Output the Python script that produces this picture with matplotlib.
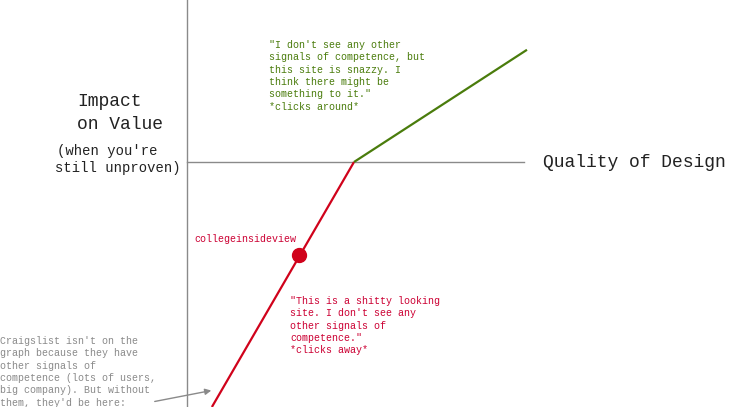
import matplotlib
matplotlib.use('Agg')
import matplotlib.pyplot as plt

# curve: quality of design vs impact on value
quality_bad = [-2.9, 0.0]
impact_bad = [-5.0, 0.0]
quality_good = [0.0, 3.53]
impact_good = [0.0, 2.29]

site_label = 'collegeinsideview'
site_quality = -1.12
site_impact = -1.9

W, H = 738, 407
px = 49.0          # pixels per data unit
ox, oy = 354, 162  # origin in pixels (from top-left)

fig = plt.figure(figsize=(W / 100, H / 100), dpi=100)
ax = fig.add_axes([0, 0, 1, 1])
ax.set_xlim(-ox / px, (W - ox) / px)
ax.set_ylim(-(H - oy) / px, oy / px)
ax.axis('off')

mono = 'Liberation Mono'
gray = '#8a8a8a'
red = '#d0021b'
green = '#4a7c0c'

# axes lines
x_axis_left = (187 - ox) / px
ax.plot([x_axis_left, x_axis_left], [-(H - oy) / px, oy / px], color=gray, lw=1)
ax.plot([x_axis_left, (524 - ox) / px], [0, 0], color=gray, lw=1)

ax.plot(quality_bad, impact_bad, color=red, lw=1.6, solid_capstyle='butt')
ax.plot(quality_good, impact_good, color=green, lw=1.6, solid_capstyle='butt')
ax.plot([site_quality], [site_impact], 'o', color=red, ms=10)


def ftext(x, y, s, **kw):
    fig.text(x / W, 1 - y / H, s, family=mono, **kw)


ftext(543, 162, 'Quality of Design', fontsize=13, va='center', color='#222222')
ftext(77, 102, 'Impact', fontsize=13, va='center', color='#222222')
ftext(77, 124, 'on Value', fontsize=13, va='center', color='#222222')
ftext(57, 151, "(when you're", fontsize=10, va='center', color='#222222')
ftext(55, 168, "still unproven)", fontsize=10, va='center', color='#222222')

ftext(269, 40, "\"I don't see any other\nsignals of competence, but\n"
      "this site is snazzy. I\nthink there might be\nsomething to it.\"\n"
      "*clicks around*", fontsize=7.2, va='top', color=green, linespacing=1.29)

ftext(290, 296, "\"This is a shitty looking\nsite. I don't see any\n"
      "other signals of\ncompetence.\"\n*clicks away*",
      fontsize=7.2, va='top', color='#cc0033', linespacing=1.29)

ftext(194, 239, site_label, fontsize=7.2, va='center', color='#cc0033')

ftext(0, 336, "Craigslist isn't on the\ngraph because they have\n"
      "other signals of\ncompetence (lots of users,\n"
      "big company). But without\nthem, they'd be here:",
      fontsize=7.2, va='top', color=gray, linespacing=1.29)

ax.annotate('', xy=((214 - ox) / px, -(390 - oy) / px),
            xytext=((152 - ox) / px, -(402 - oy) / px),
            arrowprops=dict(arrowstyle='-|>', color=gray, lw=1,
                            mutation_scale=9))

fig.savefig('out.png', dpi=100)
